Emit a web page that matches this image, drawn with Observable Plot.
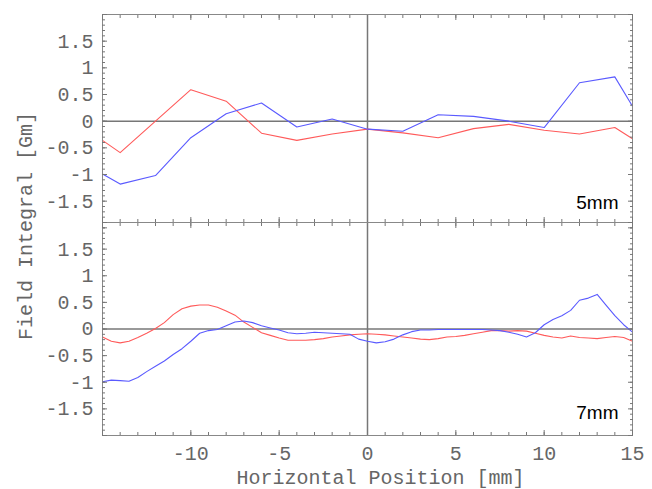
<!DOCTYPE html>
<html><head><meta charset="utf-8">
<script src="https://cdn.jsdelivr.net/npm/d3@7"></script>
<script src="https://cdn.jsdelivr.net/npm/@observablehq/plot@0.6"></script>
<style>
body{margin:0;background:#fff;}
#wrap{position:relative;width:652px;height:489px;overflow:hidden;background:#fff;}
#wrap svg{position:absolute;left:0;}
#ylab{position:absolute;left:-95px;top:216px;width:240px;height:20px;line-height:20px;text-align:center;
  transform:rotate(-90deg);font:20px "Liberation Mono","Courier New",monospace;color:#666;white-space:nowrap;}
</style></head><body><div id="wrap"><div id="ylab"></div></div>
<script>
// ---- data ----
const xs5   = [-15,-14,-12,-10,-8,-6,-4,-2,0,2,4,6,8,10,12,14,15];
const red5  = [-0.36,-0.59,0.00,0.59,0.375,-0.225,-0.36,-0.24,-0.15,-0.22,-0.31,-0.14,-0.06,-0.17,-0.24,-0.12,-0.33];
const blue5 = [-0.99,-1.18,-1.02,-0.31,0.14,0.34,-0.11,0.04,-0.15,-0.19,0.12,0.09,0.00,-0.12,0.72,0.83,0.28];

const xs7 = [-15,-14.5,-14,-13.5,-13,-12.5,-12,-11.5,-11,-10.5,-10,-9.5,-9,-8.5,-8,-7.5,-7,-6.5,-6,-5.5,-5,-4.5,-4,-3.5,-3,-2.5,-2,-1.5,-1,-0.5,
  0,0.5,1,1.5,2,2.5,3,3.5,4,4.5,5,5.5,6,6.5,7,7.5,8,8.5,9,9.5,10,10.5,11,11.5,12,12.5,13,13.5,14,14.5,15];
const red7 = [-0.15,-0.23,-0.26,-0.23,-0.16,-0.08,0.01,0.12,0.27,0.38,0.43,0.45,0.45,0.41,0.34,0.26,0.13,0.03,-0.07,-0.12,-0.17,-0.21,-0.21,-0.21,-0.20,-0.18,-0.15,-0.13,-0.11,-0.10,
  -0.09,-0.10,-0.11,-0.13,-0.15,-0.17,-0.19,-0.20,-0.18,-0.15,-0.14,-0.12,-0.09,-0.06,-0.03,-0.03,-0.04,-0.03,-0.04,-0.08,-0.12,-0.15,-0.17,-0.13,-0.16,-0.17,-0.18,-0.16,-0.14,-0.16,-0.23];
const blue7 = [-0.99,-0.96,-0.97,-0.98,-0.91,-0.80,-0.70,-0.60,-0.48,-0.37,-0.23,-0.08,-0.03,-0.01,0.06,0.13,0.15,0.12,0.06,0.02,-0.02,-0.07,-0.09,-0.08,-0.06,-0.07,-0.08,-0.09,-0.10,-0.19,
  -0.23,-0.26,-0.24,-0.19,-0.11,-0.05,-0.02,-0.02,-0.01,-0.01,-0.01,-0.01,-0.01,-0.01,-0.02,-0.03,-0.06,-0.10,-0.15,-0.07,0.08,0.18,0.25,0.35,0.54,0.58,0.65,0.45,0.25,0.08,-0.06];

const yTickLabels = [-1.5,-1,-0.5,0,0.5,1,1.5];
const xTickLabels = [-10,-5,0,5,10,15];
const xMajor = [-15,-10,-5,0,5,10,15];
const panelLabels = ["5mm","7mm"];
const xTitle = "Horizontal Position [mm]";
const yTitle = "Field Integral [Gm]";

const RED = "#ff5a5a", BLUE = "#5a5aff";
const MONO = "Liberation Mono, Courier New, monospace";
const TXT = "#666";

function panel({xs, red, blue, label, yDomain, height, marginTop, marginBottom, labelDy, showX}) {
  const rd = xs.map((x,i)=>({x, y: red[i]}));
  const bd = xs.map((x,i)=>({x, y: blue[i]}));
  const xMinor = d3.range(-15, 16, 1);
  const yMinor = d3.range(-20, 21).map(i => i/10);
  const yMajor = d3.range(-4, 5).map(i => i/2);
  const tickOpts = {tickFormat: () => "", label: null, color: "#777"};
  const marks = [
    Plot.ruleY([0], {stroke: "#777", strokeWidth: 1.5}),
    Plot.ruleX([0], {stroke: "#777", strokeWidth: 1.5}),
    Plot.line(rd, {x: "x", y: "y", stroke: RED, strokeWidth: 1.1}),
    Plot.line(bd, {x: "x", y: "y", stroke: BLUE, strokeWidth: 1.1}),
    Plot.frame({stroke: "#888"}),
    Plot.axisX({anchor: "top", ticks: xMajor, tickSize: -5, ...tickOpts}),
    Plot.axisX({anchor: "top", ticks: xMinor, tickSize: -3, ...tickOpts}),
    Plot.axisX({anchor: "bottom", ticks: xMajor, tickSize: -5, ...tickOpts}),
    Plot.axisX({anchor: "bottom", ticks: xMinor, tickSize: -3, ...tickOpts}),
    Plot.axisY({anchor: "left", ticks: yMajor, tickSize: -5, ...tickOpts}),
    Plot.axisY({anchor: "left", ticks: yMinor, tickSize: -3, ...tickOpts}),
    Plot.axisY({anchor: "right", ticks: yMajor, tickSize: -5, ...tickOpts}),
    Plot.axisY({anchor: "right", ticks: yMinor, tickSize: -3, ...tickOpts}),
    Plot.axisY({anchor: "left", ticks: yTickLabels, tickSize: 0, tickPadding: 9, tickFormat: d => String(d),
      label: null, fontSize: 20, fontFamily: MONO, color: TXT}),
    Plot.text([label], {text: d => d, frameAnchor: "bottom-right", dx: -14, dy: labelDy, textAnchor: "end",
      lineAnchor: "bottom", fontSize: 19, fontFamily: "Liberation Sans, Arial, sans-serif", fill: "#000"})
  ];
  if (showX) {
    marks.push(Plot.axisX({anchor: "bottom", ticks: xTickLabels, tickSize: 0, tickPadding: 10, tickFormat: d => String(d),
      label: null, fontSize: 20, fontFamily: MONO, color: TXT}));
    marks.push(Plot.text([xTitle], {text: d => d, frameAnchor: "bottom", dx: 13, dy: 48, lineAnchor: "bottom",
      fontSize: 20, fontFamily: MONO, fill: TXT}));
  }
  return Plot.plot({
    width: 652, height, marginTop, marginBottom, marginLeft: 102, marginRight: 20,
    style: {background: "transparent", overflow: "visible"},
    x: {domain: [-15, 15], axis: null},
    y: {domain: yDomain, axis: null},
    marks
  });
}

const wrap = document.getElementById("wrap");
document.getElementById("ylab").textContent = yTitle;
const p1 = panel({xs: xs5, red: red5, blue: blue5, label: panelLabels[0], yDomain: [-1.9, 2],
  height: 224, marginTop: 14, marginBottom: 2, labelDy: -14, showX: false});
p1.style.top = "0px";
const p2 = panel({xs: xs7, red: red7, blue: blue7, label: panelLabels[1], yDomain: [-2, 2],
  height: 269, marginTop: 2, marginBottom: 54, labelDy: -17, showX: true});
p2.style.top = "220px";
wrap.appendChild(p1);
wrap.appendChild(p2);
</script></body></html>
